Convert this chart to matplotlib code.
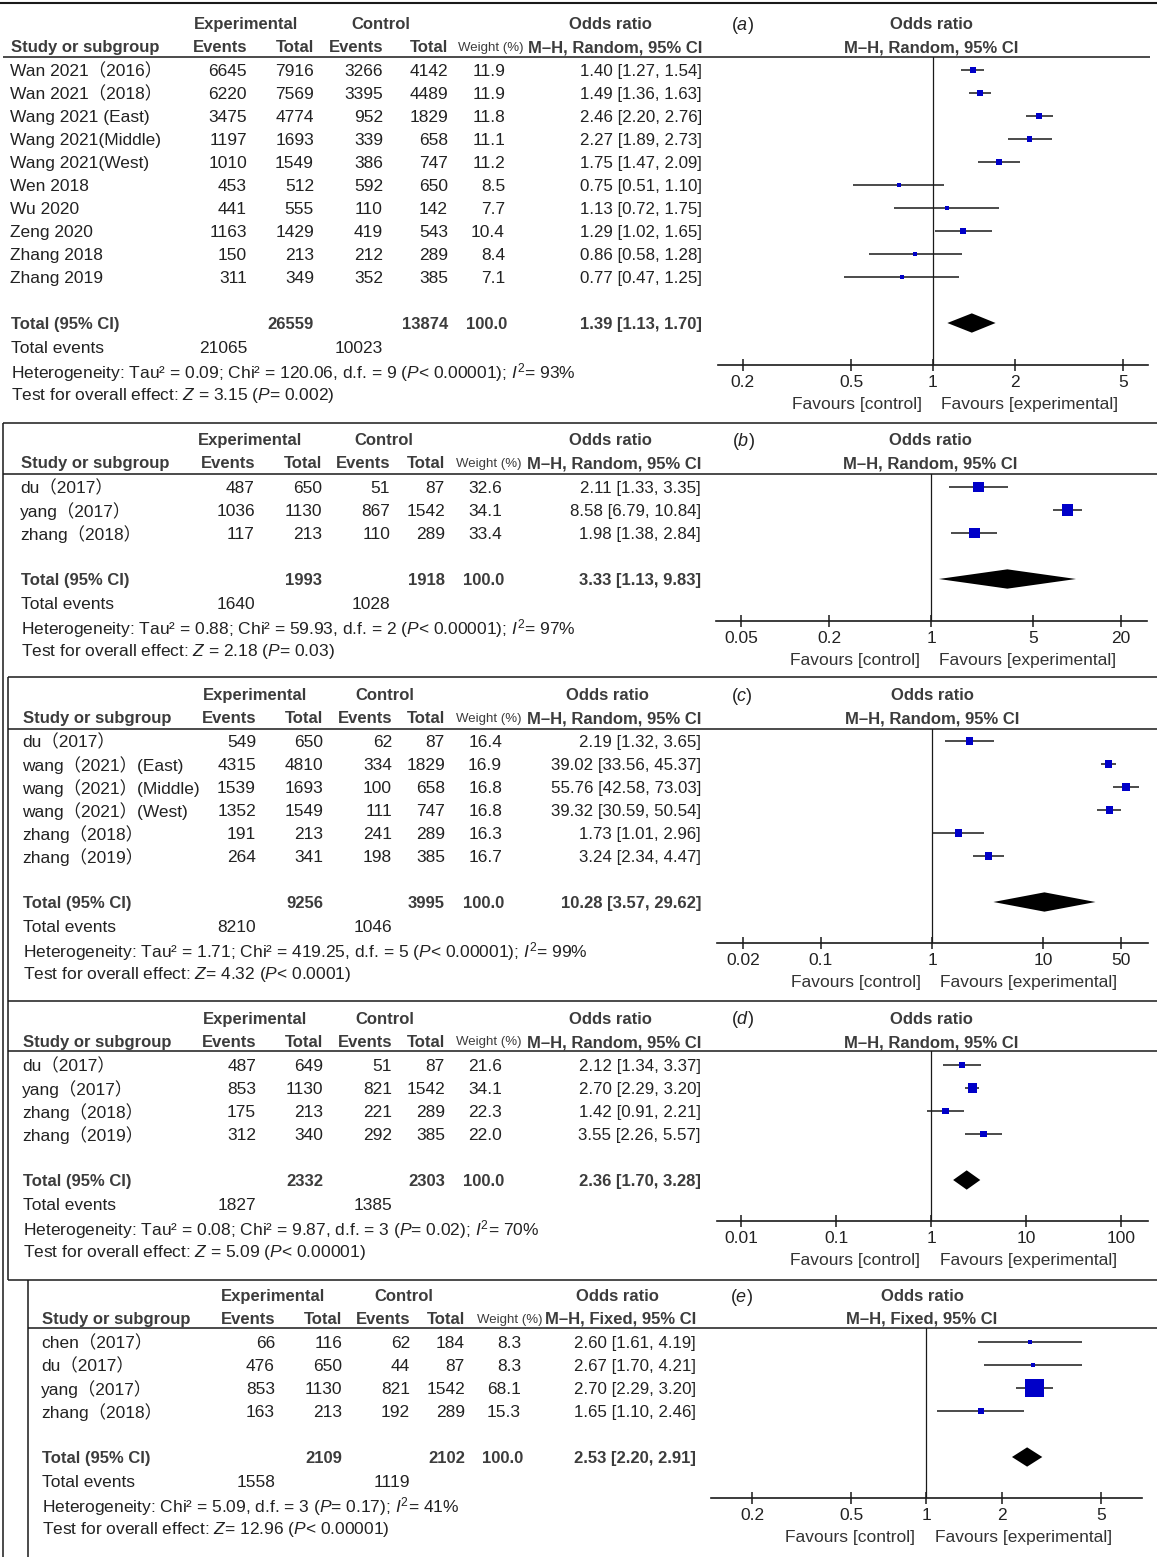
import matplotlib
matplotlib.use('Agg')
import matplotlib.pyplot as plt
from matplotlib.ticker import NullLocator

plt.rcParams['font.family'] = ['Liberation Sans', 'Noto Sans CJK SC']
plt.rcParams['mathtext.fontset'] = 'custom'
plt.rcParams['mathtext.rm'] = 'Liberation Sans'
plt.rcParams['mathtext.it'] = 'Liberation Sans:italic'
plt.rcParams['mathtext.bf'] = 'Liberation Sans:bold'

# ------------------------------------------------------------------ data
a_studies = ['Wan 2021（2016）', 'Wan 2021（2018）', 'Wang 2021 (East)', 'Wang 2021(Middle)',
             'Wang 2021(West)', 'Wen 2018', 'Wu 2020', 'Zeng 2020', 'Zhang 2018', 'Zhang 2019']
a_exp_events = [6645, 6220, 3475, 1197, 1010, 453, 441, 1163, 150, 311]
a_exp_total = [7916, 7569, 4774, 1693, 1549, 512, 555, 1429, 213, 349]
a_ctrl_events = [3266, 3395, 952, 339, 386, 592, 110, 419, 212, 352]
a_ctrl_total = [4142, 4489, 1829, 658, 747, 650, 142, 543, 289, 385]
a_weight = [11.9, 11.9, 11.8, 11.1, 11.2, 8.5, 7.7, 10.4, 8.4, 7.1]
a_or = [1.40, 1.49, 2.46, 2.27, 1.75, 0.75, 1.13, 1.29, 0.86, 0.77]
a_lo = [1.27, 1.36, 2.20, 1.89, 1.47, 0.51, 0.72, 1.02, 0.58, 0.47]
a_hi = [1.54, 1.63, 2.76, 2.73, 2.09, 1.10, 1.75, 1.65, 1.28, 1.25]
a_total = [26559, 13874, 100.0, 1.39, 1.13, 1.70]
a_total_events = [21065, 10023]
a_het = 'Heterogeneity: Tau² = 0.09; Chi² = 120.06, d.f. = 9 ($\\mathit{P}$< 0.00001); $\\mathit{I}^2$= 93%'
a_test = 'Test for overall effect: $\\mathit{Z}$ = 3.15 ($\\mathit{P}$= 0.002)'
a_ticks = [0.2, 0.5, 1, 2, 5]
a_ticklabels = ['0.2', '0.5', '1', '2', '5']

b_studies = ['du（2017）', 'yang（2017）', 'zhang（2018）']
b_exp_events = [487, 1036, 117]
b_exp_total = [650, 1130, 213]
b_ctrl_events = [51, 867, 110]
b_ctrl_total = [87, 1542, 289]
b_weight = [32.6, 34.1, 33.4]
b_or = [2.11, 8.58, 1.98]
b_lo = [1.33, 6.79, 1.38]
b_hi = [3.35, 10.84, 2.84]
b_total = [1993, 1918, 100.0, 3.33, 1.13, 9.83]
b_total_events = [1640, 1028]
b_het = 'Heterogeneity: Tau² = 0.88; Chi² = 59.93, d.f. = 2 ($\\mathit{P}$< 0.00001); $\\mathit{I}^2$= 97%'
b_test = 'Test for overall effect: $\\mathit{Z}$ = 2.18 ($\\mathit{P}$= 0.03)'
b_ticks = [0.05, 0.2, 1, 5, 20]
b_ticklabels = ['0.05', '0.2', '1', '5', '20']

c_studies = ['du（2017）', 'wang（2021）(East)', 'wang（2021）(Middle)', 'wang（2021）(West)',
             'zhang（2018）', 'zhang（2019）']
c_exp_events = [549, 4315, 1539, 1352, 191, 264]
c_exp_total = [650, 4810, 1693, 1549, 213, 341]
c_ctrl_events = [62, 334, 100, 111, 241, 198]
c_ctrl_total = [87, 1829, 658, 747, 289, 385]
c_weight = [16.4, 16.9, 16.8, 16.8, 16.3, 16.7]
c_or = [2.19, 39.02, 55.76, 39.32, 1.73, 3.24]
c_lo = [1.32, 33.56, 42.58, 30.59, 1.01, 2.34]
c_hi = [3.65, 45.37, 73.03, 50.54, 2.96, 4.47]
c_total = [9256, 3995, 100.0, 10.28, 3.57, 29.62]
c_total_events = [8210, 1046]
c_het = 'Heterogeneity: Tau² = 1.71; Chi² = 419.25, d.f. = 5 ($\\mathit{P}$< 0.00001); $\\mathit{I}^2$= 99%'
c_test = 'Test for overall effect: $\\mathit{Z}$= 4.32 ($\\mathit{P}$< 0.0001)'
c_ticks = [0.02, 0.1, 1, 10, 50]
c_ticklabels = ['0.02', '0.1', '1', '10', '50']

d_studies = ['du（2017）', 'yang（2017）', 'zhang（2018）', 'zhang（2019）']
d_exp_events = [487, 853, 175, 312]
d_exp_total = [649, 1130, 213, 340]
d_ctrl_events = [51, 821, 221, 292]
d_ctrl_total = [87, 1542, 289, 385]
d_weight = [21.6, 34.1, 22.3, 22.0]
d_or = [2.12, 2.70, 1.42, 3.55]
d_lo = [1.34, 2.29, 0.91, 2.26]
d_hi = [3.37, 3.20, 2.21, 5.57]
d_total = [2332, 2303, 100.0, 2.36, 1.70, 3.28]
d_total_events = [1827, 1385]
d_het = 'Heterogeneity: Tau² = 0.08; Chi² = 9.87, d.f. = 3 ($\\mathit{P}$= 0.02); $\\mathit{I}^2$= 70%'
d_test = 'Test for overall effect: $\\mathit{Z}$ = 5.09 ($\\mathit{P}$< 0.00001)'
d_ticks = [0.01, 0.1, 1, 10, 100]
d_ticklabels = ['0.01', '0.1', '1', '10', '100']

e_studies = ['chen（2017）', 'du（2017）', 'yang（2017）', 'zhang（2018）']
e_exp_events = [66, 476, 853, 163]
e_exp_total = [116, 650, 1130, 213]
e_ctrl_events = [62, 44, 821, 192]
e_ctrl_total = [184, 87, 1542, 289]
e_weight = [8.3, 8.3, 68.1, 15.3]
e_or = [2.60, 2.67, 2.70, 1.65]
e_lo = [1.61, 1.70, 2.29, 1.10]
e_hi = [4.19, 4.21, 3.20, 2.46]
e_total = [2109, 2102, 100.0, 2.53, 2.20, 2.91]
e_total_events = [1558, 1119]
e_het = 'Heterogeneity: Chi² = 5.09, d.f. = 3 ($\\mathit{P}$= 0.17); $\\mathit{I}^2$= 41%'
e_test = 'Test for overall effect: $\\mathit{Z}$= 12.96 ($\\mathit{P}$< 0.00001)'
e_ticks = [0.2, 0.5, 1, 2, 5]
e_ticklabels = ['0.2', '0.5', '1', '2', '5']

# ------------------------------------------------------------------ layout
W, H = 1160, 1557
ROW = 23
BODY = '#222222'
HEAD = '#3c3c3c'
BLUE = '#0000c8'
FS = 12.5      # body text
FS_OR = 12.2   # odds-ratio column

panels = [
    dict(tag='a', method='M–H, Random, 95% CI',
         studies=a_studies, ee=a_exp_events, et=a_exp_total, ce=a_ctrl_events, ct=a_ctrl_total,
         w=a_weight, est=a_or, lo=a_lo, hi=a_hi, tot=a_total, totev=a_total_events,
         het=a_het, test=a_test, ticks=a_ticks, ticklabels=a_ticklabels,
         y_h1=23, y_h2=46, y_ul=57, y_r0=70, y_ax=365,
         x_name=10, x_ee=247, x_et=314, x_ce=383, x_ct=448, x_w=505, x_or=702,
         x_expc=246, x_ctlc=381, x_orc=610, x_whc=491, x_tag=742, x_frc=931,
         fx0=718, fx1=1148, xlim=(0.162, 6.18), k=0.89),
    dict(tag='b', method='M–H, Random, 95% CI',
         studies=b_studies, ee=b_exp_events, et=b_exp_total, ce=b_ctrl_events, ct=b_ctrl_total,
         w=b_weight, est=b_or, lo=b_lo, hi=b_hi, tot=b_total, totev=b_total_events,
         het=b_het, test=b_test, ticks=b_ticks, ticklabels=b_ticklabels,
         y_h1=439, y_h2=462, y_ul=474, y_r0=487, y_ax=621,
         x_name=20, x_ee=255, x_et=322, x_ce=390, x_ct=445, x_w=502, x_or=701,
         x_expc=250, x_ctlc=384, x_orc=610, x_whc=489, x_tag=743, x_frc=930,
         fx0=716, fx1=1147, xlim=(0.0337, 30.1), k=0.78),
    dict(tag='c', method='M–H, Random, 95% CI',
         studies=c_studies, ee=c_exp_events, et=c_exp_total, ce=c_ctrl_events, ct=c_ctrl_total,
         w=c_weight, est=c_or, lo=c_lo, hi=c_hi, tot=c_total, totev=c_total_events,
         het=c_het, test=c_test, ticks=c_ticks, ticklabels=c_ticklabels,
         y_h1=694, y_h2=717, y_ul=729, y_r0=741, y_ax=943,
         x_name=22, x_ee=256, x_et=323, x_ce=392, x_ct=445, x_w=502, x_or=701,
         x_expc=255, x_ctlc=385, x_orc=607, x_whc=489, x_tag=742, x_frc=932,
         fx0=717, fx1=1148, xlim=(0.0116, 88.0), k=0.87),
    dict(tag='d', method='M–H, Random, 95% CI',
         studies=d_studies, ee=d_exp_events, et=d_exp_total, ce=d_ctrl_events, ct=d_ctrl_total,
         w=d_weight, est=d_or, lo=d_lo, hi=d_hi, tot=d_total, totev=d_total_events,
         het=d_het, test=d_test, ticks=d_ticks, ticklabels=d_ticklabels,
         y_h1=1018, y_h2=1041, y_ul=1051, y_r0=1065, y_ax=1221,
         x_name=22, x_ee=256, x_et=323, x_ce=392, x_ct=445, x_w=502, x_or=701,
         x_expc=255, x_ctlc=385, x_orc=610, x_whc=489, x_tag=742, x_frc=931,
         fx0=717, fx1=1148, xlim=(0.0056, 190.0), k=0.64),
    dict(tag='e', method='M–H, Fixed, 95% CI',
         studies=e_studies, ee=e_exp_events, et=e_exp_total, ce=e_ctrl_events, ct=e_ctrl_total,
         w=e_weight, est=e_or, lo=e_lo, hi=e_hi, tot=e_total, totev=e_total_events,
         het=e_het, test=e_test, ticks=e_ticks, ticklabels=e_ticklabels,
         y_h1=1295, y_h2=1318, y_ul=1328, y_r0=1342, y_ax=1498,
         x_name=41, x_ee=275, x_et=342, x_ce=410, x_ct=465, x_w=521, x_or=696,
         x_expc=273, x_ctlc=404, x_orc=617, x_whc=510, x_tag=741, x_frc=922,
         fx0=711, fx1=1142, xlim=(0.137, 7.3), k=0.79),
]

fig = plt.figure(figsize=(W / 100, H / 100), dpi=100)
ax0 = fig.add_axes([0, 0, 1, 1])
ax0.set_xlim(0, W)
ax0.set_ylim(H, 0)
ax0.axis('off')


def txt(x, y, s, ha='left', bold=False, size=FS, color=BODY):
    ax0.text(x, y, s, ha=ha, va='center_baseline', fontsize=size,
             fontweight='bold' if bold else 'normal', color=color)


def hline(y, x0, x1, lw=1.1):
    ax0.plot([x0, x1], [y, y], color='#1a1a1a', lw=lw, solid_capstyle='butt')


def vline(x, y0, y1, lw=1.1):
    ax0.plot([x, x], [y0, y1], color='#1a1a1a', lw=lw, solid_capstyle='butt')


# frame lines
hline(3, 0, 1157, lw=1.5)
hline(57, 3, 1150)
hline(423, 3, 1157)
hline(474, 3, 1157)
vline(3, 423, 1557)
hline(677, 8, 1157)
vline(8, 677, 1280)
hline(729, 8, 1157)
hline(1001, 8, 1157)
hline(1051, 8, 1157)
hline(1280, 8, 1157)
vline(28, 1280, 1557)
hline(1328, 28, 1157)

for P in panels:
    n = len(P['studies'])
    # headers
    txt(P['x_expc'], P['y_h1'], 'Experimental', ha='center', bold=True, size=12, color=HEAD)
    txt(P['x_ctlc'], P['y_h1'], 'Control', ha='center', bold=True, size=12, color=HEAD)
    txt(P['x_orc'], P['y_h1'], 'Odds ratio', ha='center', bold=True, size=12, color=HEAD)
    txt(P['x_frc'], P['y_h1'], 'Odds ratio', ha='center', bold=True, size=12, color=HEAD)
    txt(P['x_tag'], P['y_h1'] - 1, '($\\mathit{%s}$)' % P['tag'], ha='center', size=13)
    txt(P['x_name'] + 1, P['y_h2'], 'Study or subgroup', bold=True, size=12, color=HEAD)
    txt(P['x_ee'], P['y_h2'], 'Events', ha='right', bold=True, size=12, color=HEAD)
    txt(P['x_et'], P['y_h2'], 'Total', ha='right', bold=True, size=12, color=HEAD)
    txt(P['x_ce'], P['y_h2'], 'Events', ha='right', bold=True, size=12, color=HEAD)
    txt(P['x_ct'], P['y_h2'], 'Total', ha='right', bold=True, size=12, color=HEAD)
    txt(P['x_whc'], P['y_h2'], 'Weight (%)', ha='center', size=9.5, color=HEAD)
    txt(P['x_or'], P['y_h2'], P['method'], ha='right', bold=True, size=12, color=HEAD)
    txt(P['x_frc'], P['y_h2'], P['method'], ha='center', bold=True, size=12, color=HEAD)

    # study rows
    for i in range(n):
        y = P['y_r0'] + ROW * i
        txt(P['x_name'], y, P['studies'][i])
        txt(P['x_ee'], y, str(P['ee'][i]), ha='right')
        txt(P['x_et'], y, str(P['et'][i]), ha='right')
        txt(P['x_ce'], y, str(P['ce'][i]), ha='right')
        txt(P['x_ct'], y, str(P['ct'][i]), ha='right')
        txt(P['x_w'], y, '%.1f' % P['w'][i], ha='right')
        txt(P['x_or'], y, '%.2f [%.2f, %.2f]' % (P['est'][i], P['lo'][i], P['hi'][i]),
            ha='right', size=FS_OR)

    # totals
    yt = P['y_r0'] + ROW * (n + 1)
    t = P['tot']
    txt(P['x_name'] + 1, yt, 'Total (95% CI)', bold=True, size=12, color=HEAD)
    txt(P['x_et'], yt, str(t[0]), ha='right', bold=True, size=12, color=HEAD)
    txt(P['x_ct'], yt, str(t[1]), ha='right', bold=True, size=12, color=HEAD)
    txt(P['x_w'] + 2, yt, '%.1f' % t[2], ha='right', bold=True, size=12, color=HEAD)
    txt(P['x_or'], yt, '%.2f [%.2f, %.2f]' % (t[3], t[4], t[5]), ha='right', bold=True,
        size=12, color=HEAD)
    txt(P['x_name'] + 1, yt + 24, 'Total events')
    txt(P['x_ee'], yt + 24, str(P['totev'][0]), ha='right')
    txt(P['x_ce'], yt + 24, str(P['totev'][1]), ha='right')
    txt(P['x_name'] + 1, yt + 47, P['het'])
    txt(P['x_name'] + 1, yt + 70, P['test'])

    # forest plot
    ax = fig.add_axes([P['fx0'] / W, 1 - P['y_ax'] / H,
                       (P['fx1'] - P['fx0']) / W, (P['y_ax'] - P['y_ul']) / H])
    ax.patch.set_alpha(0)
    ax.set_xscale('log')
    ax.set_xlim(*P['xlim'])
    ax.set_ylim((P['y_ax'] - P['y_r0']) / ROW, (P['y_ul'] - P['y_r0']) / ROW)
    for s in ['top', 'left', 'right']:
        ax.spines[s].set_visible(False)
    ax.spines['bottom'].set_linewidth(1.2)
    ax.spines['bottom'].set_color('#1a1a1a')
    ax.set_yticks([])
    ax.set_xticks(P['ticks'])
    ax.set_xticklabels(P['ticklabels'])
    ax.xaxis.set_minor_locator(NullLocator())
    ax.tick_params(axis='x', direction='inout', length=9, width=1.1, labelsize=FS,
                   pad=3, colors='#1a1a1a', labelcolor=BODY)
    ax.axvline(1, color='#1a1a1a', lw=0.9, zorder=1)

    rows = list(range(n))
    ax.hlines(rows, P['lo'], P['hi'], color='#1a1a1a', lw=1.1, zorder=2)
    sizes = [(P['k'] * w ** 0.75 * 0.72) ** 2 for w in P['w']]
    ax.scatter(P['est'], rows, s=sizes, marker='s', color=BLUE, linewidths=0, zorder=3)
    h = 0.42
    ax.fill([t[4], t[3], t[5], t[3]], [n + 1, n + 1 - h, n + 1, n + 1 + h],
            color='black', lw=0, zorder=3)

    ax.annotate('Favours [control]', xy=(1, 0), xycoords=('data', 'axes fraction'),
                xytext=(-8, -27.5), textcoords='offset points', ha='right',
                va='center_baseline', fontsize=FS, color='#333333')
    ax.annotate('Favours [experimental]', xy=(1, 0), xycoords=('data', 'axes fraction'),
                xytext=(6, -27.5), textcoords='offset points', ha='left',
                va='center_baseline', fontsize=FS, color='#333333')

fig.savefig('out.png', dpi=100)
